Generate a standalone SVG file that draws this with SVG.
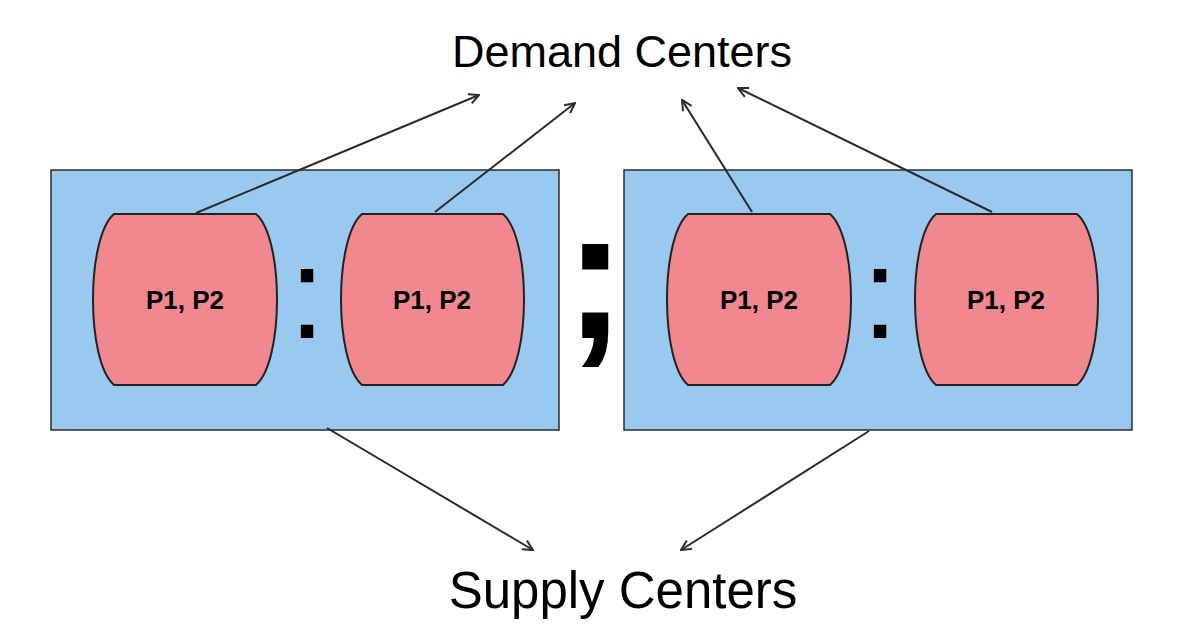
<svg xmlns="http://www.w3.org/2000/svg" width="1177" height="641" viewBox="0 0 1177 641">
<style>
.container{fill:#99C9EF;stroke:#2b2b2b;stroke-width:1.5}
.pod{fill:#F1888F;stroke:#222;stroke-width:2}
.podlabel{font-family:"Liberation Sans",Arial,sans-serif;font-weight:bold;font-size:26px;fill:#000;text-anchor:middle}
.big{font-family:"Liberation Sans",Arial,sans-serif;fill:#000;text-anchor:middle}
.conn{stroke:#2b2b2b;stroke-width:2;fill:none;marker-end:url(#open)}
</style>
<defs>
<marker id="open" viewBox="0 0 12 12" refX="11" refY="6" markerWidth="12" markerHeight="12" markerUnits="userSpaceOnUse" orient="auto">
<path d="M1,1 L11,6 L1,11" fill="none" stroke="#2b2b2b" stroke-width="2"/>
</marker>
</defs>
<rect width="1177" height="641" fill="#fff"/>
<g id="demand-label"><text class="big" x="622" y="67" font-size="45">Demand Centers</text></g>
<g id="supply-label"><text class="big" x="623" y="608" font-size="51">Supply Centers</text></g>
<g id="container-left"><rect class="container" x="51" y="170" width="508" height="260"/></g>
<g id="container-right"><rect class="container" x="624" y="170" width="508" height="260"/></g>
<g id="pod1"><path class="pod" d="M114,214 L256,214 C284,238 284,361 256,385 L114,385 C86,361 86,238 114,214 Z"/><text class="podlabel" x="185" y="309">P1, P2</text></g>
<g id="pod2"><path class="pod" d="M362,214 L503,214 C531,238 531,361 503,385 L362,385 C334,361 334,238 362,214 Z"/><text class="podlabel" x="432" y="309">P1, P2</text></g>
<g id="pod3"><path class="pod" d="M688,214 L830,214 C858,238 858,361 830,385 L688,385 C660,361 660,238 688,214 Z"/><text class="podlabel" x="759" y="309">P1, P2</text></g>
<g id="pod4"><path class="pod" d="M936,214 L1077,214 C1105,238 1105,361 1077,385 L936,385 C908,361 908,238 936,214 Z"/><text class="podlabel" x="1006" y="309">P1, P2</text></g>
<g id="colon-left"><text class="big" x="307" y="338" font-size="130">:</text></g>
<g id="colon-right"><text class="big" x="880" y="338" font-size="130">:</text></g>
<g id="semicolon"><text class="big" x="595" y="338" font-size="185" font-weight="bold">;</text></g>
<g id="connectors">
<line class="conn" x1="196" y1="213" x2="479" y2="95"/>
<line class="conn" x1="435" y1="212" x2="575" y2="103"/>
<line class="conn" x1="752" y1="212" x2="682" y2="100"/>
<line class="conn" x1="992" y1="212" x2="738" y2="88"/>
<line class="conn" x1="327" y1="428" x2="533" y2="550"/>
<line class="conn" x1="869" y1="431" x2="681" y2="550"/>
</g>
</svg>
